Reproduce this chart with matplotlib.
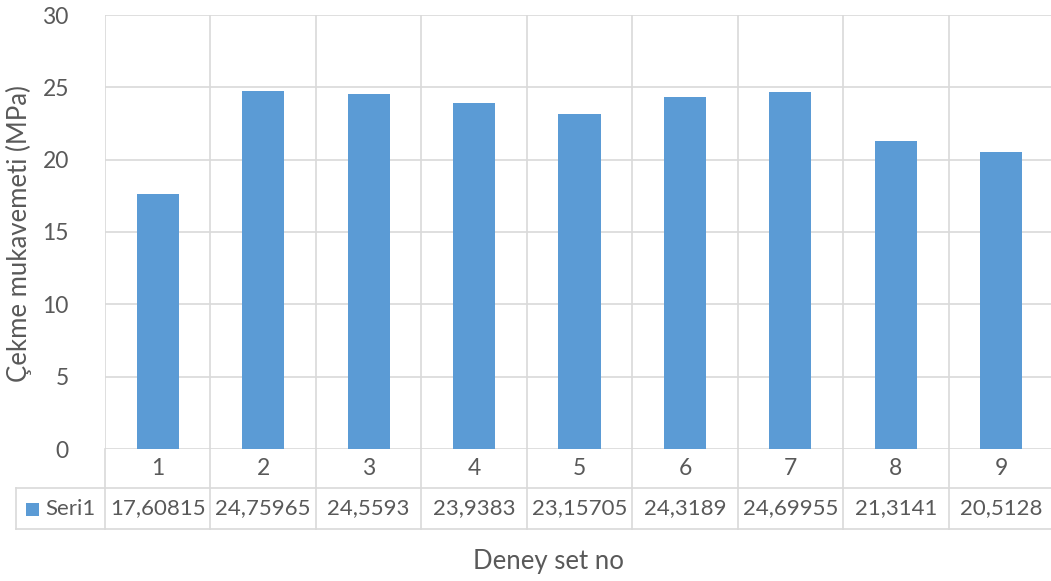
import matplotlib
matplotlib.use("Agg")
import matplotlib.pyplot as plt
from matplotlib.patches import Rectangle
from matplotlib.transforms import blended_transform_factory

categories = ["1", "2", "3", "4", "5", "6", "7", "8", "9"]
values = [17.60815, 24.75965, 24.5593, 23.9383, 23.15705, 24.3189, 24.69955, 21.3141, 20.5128]
value_labels = ["17,60815", "24,75965", "24,5593", "23,9383", "23,15705",
                "24,3189", "24,69955", "21,3141", "20,5128"]
series_name = "Seri1"
yticks = [0, 5, 10, 15, 20, 25, 30]

BAR = "#5B9BD5"
GRID = "#D9D9D9"
TXT = "#595959"
FONT = "Lato"
FS = 16
FS_LABEL = 18.5

W, H = 1051, 581
fig = plt.figure(figsize=(W / 100, H / 100), dpi=100)
left, right, top, bottom = 105, 1054, 15, 449
ax = fig.add_axes([left / W, 1 - bottom / H, (right - left) / W, (bottom - top) / H])

x = list(range(1, len(categories) + 1))
ax.bar(x, values, width=0.4, color=BAR, zorder=3)
ax.set_xlim(0.5, len(categories) + 0.5)
ax.set_ylim(0, 30)
ax.set_yticks(yticks)
ax.set_yticklabels([str(t) for t in yticks], fontsize=FS + 0.5, color=TXT, family=FONT)
ax.tick_params(axis="y", length=0, pad=26)
ax.set_xticks([])
for s in ax.spines.values():
    s.set_visible(False)
for t in yticks:
    ax.axhline(t, color=GRID, lw=1.2, zorder=1)
for b in [i + 0.5 for i in range(len(categories) + 1)]:
    ax.axvline(b, color=GRID, lw=1.2, zorder=1)

# data table under the axis
tr = blended_transform_factory(ax.transData, ax.transAxes)
hpx = bottom - top
r1 = -(488 - bottom) / hpx
r2 = -(529 - bottom) / hpx
for b in [i + 0.5 for i in range(len(categories) + 1)]:
    ax.plot([b, b], [0, r2], transform=tr, color=GRID, lw=1.2, clip_on=False)
xleft = 0.5 - (left - 16) / ((right - left) / len(categories))
for yy in (r1, r2):
    ax.plot([xleft, len(categories) + 0.5], [yy, yy], transform=tr, color=GRID, lw=1.2, clip_on=False)
ax.plot([xleft, xleft], [r1, r2], transform=tr, color=GRID, lw=1.2, clip_on=False)

for xi, c, vl in zip(x, categories, value_labels):
    ax.text(xi, r1 / 2, c, transform=tr, ha="center", va="center", fontsize=FS + 0.5, color=TXT, family=FONT)
    ax.text(xi, (r1 + r2) / 2, vl, transform=tr, ha="center", va="center", fontsize=FS, color=TXT, family=FONT)

# legend key in table
fig.patches.append(Rectangle((26 / W, 1 - 516 / H), 13 / W, 13 / H, transform=fig.transFigure,
                             facecolor=BAR, edgecolor="none"))
fig.text(45 / W, 1 - 509 / H, series_name, ha="left", va="center", fontsize=FS, color=TXT, family=FONT)

fig.text(548 / W, 1 - 562 / H, "Deney set no", ha="center", va="center", fontsize=FS_LABEL, color=TXT, family=FONT)
fig.text(19 / W, 1 - 234 / H, "Çekme mukavemeti (MPa)", ha="center", va="center", rotation=90,
         fontsize=FS_LABEL, color=TXT, family=FONT)

fig.savefig("out.png", dpi=100)
